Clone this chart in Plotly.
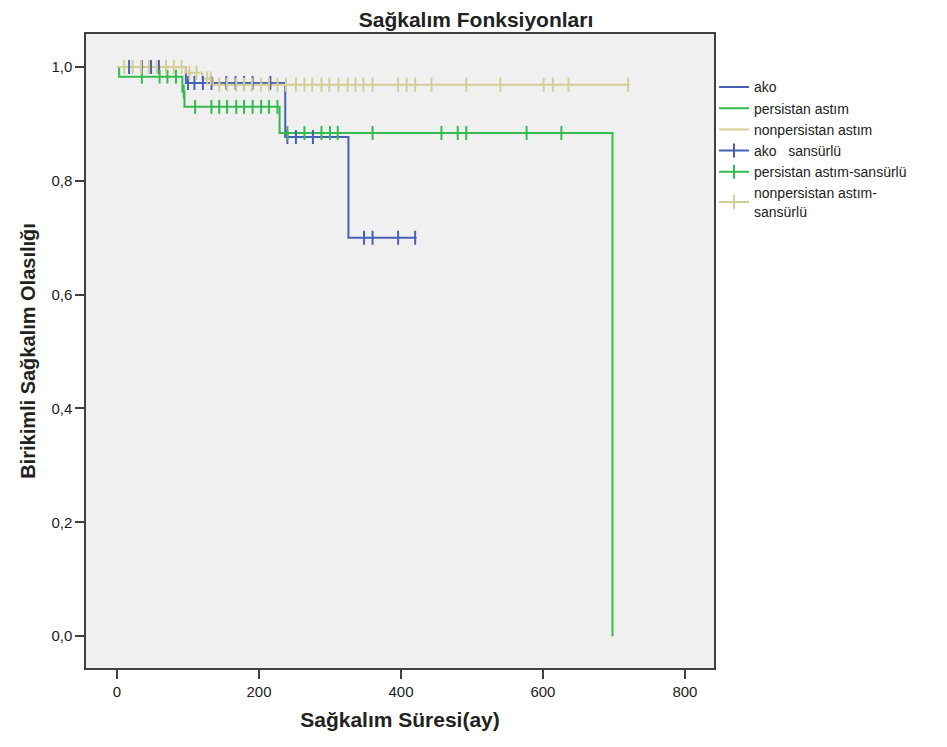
import numpy as np
import plotly.graph_objects as go

# ---- data (time in months, survival probability) ----
ako_times = [0, 97, 237, 326]
ako_surv = [1.0, 0.972, 0.877, 0.700]
ako_end = 422
ako_censored = [17, 35, 48, 59, 100, 109, 121, 133, 154, 167, 179, 191, 216,
                240, 252, 276, 348, 360, 396, 420]

pers_times = [0, 3, 92, 95, 229, 698]
pers_surv = [1.0, 0.983, 0.957, 0.930, 0.884, 0.0]
pers_end = 698
pers_censored = [35, 60, 71, 83, 94, 110, 133, 144, 155, 168, 179, 191, 203, 214,
                 226, 240, 264, 288, 300, 311, 360, 457, 480, 492, 577, 626]

nonp_times = [0, 97, 120, 135]
nonp_surv = [1.0, 0.990, 0.980, 0.969]
nonp_end = 722
nonp_censored = [10, 22, 34, 45, 56, 69, 80, 91, 102, 112, 127, 132, 144, 155, 168,
                 179, 190, 203, 214, 226, 238, 252, 264, 275, 288, 299, 312, 325,
                 336, 347, 360, 396, 408, 420, 443, 492, 540, 601, 614, 636, 720]

group_names = ["ako", "persistan astım", "nonpersistan astım"]
censor_names = ["ako\u00a0\u00a0\u00a0sansürlü", "persistan astım-sansürlü",
                "nonpersistan astım-<br>sansürlü"]
colors = ["#4660B8", "#34BC4C", "#D3CE97"]

x_ticks = [0, 200, 400, 600, 800]
y_ticks = [0.0, 0.2, 0.4, 0.6, 0.8, 1.0]

title_text = "Sağkalım Fonksiyonları"
x_title = "Sağkalım Süresi(ay)"
y_title = "Birikimli Sağkalım Olasılığı"

FONT = "Liberation Sans, Arial, sans-serif"
W, H = 939, 739  # page body has an 8px margin

groups = [
    (ako_times, ako_surv, ako_end, ako_censored),
    (pers_times, pers_surv, pers_end, pers_censored),
    (nonp_times, nonp_surv, nonp_end, nonp_censored),
]

fig = go.Figure()

# step curves
for (t, s, end, _), name, col in zip(groups, group_names, colors):
    xs = list(t) + [end]
    ys = list(s) + [s[-1]]
    fig.add_trace(go.Scatter(
        x=xs, y=ys, mode="lines", line=dict(color=col, width=2, shape="hv"),
        name=name, hoverinfo="skip"))

# censoring marks
for (t, s, end, cens), name, col in zip(groups, censor_names, colors):
    t_arr = np.array(t, dtype=float)
    s_arr = np.array(s, dtype=float)
    idx = np.searchsorted(t_arr, np.array(cens, dtype=float), side="right") - 1
    cy = s_arr[idx]
    xs, ys = [], []
    for cx, yv in zip(cens, cy):
        xs += [cx, None]
        ys += [float(yv), None]
    fig.add_trace(go.Scatter(
        x=xs, y=ys, mode="lines+markers", connectgaps=False,
        line=dict(color=col, width=2),
        marker=dict(symbol="line-ns", size=10, color=col,
                    line=dict(color=col, width=2)),
        name=name, hoverinfo="skip"))

fig.update_layout(
    width=W, height=H,
    margin=dict(l=78, r=233, t=26, b=79),
    paper_bgcolor="white",
    plot_bgcolor="#F0F0F0",
    separators=",.",
    font=dict(family=FONT, size=15, color="#222222"),
    title=dict(text=title_text, x=468 / W, xref="container", xanchor="center",
               y=1.0, yref="container", yanchor="top",
               pad=dict(t=4, b=0),
               font=dict(family=FONT, size=21, color="#222222", weight="bold")),
    showlegend=True,
    legend=dict(x=1.0, xanchor="left", y=0.941, yanchor="top",
                bgcolor="rgba(0,0,0,0)", borderwidth=0, tracegroupgap=0,
                itemwidth=30,
                font=dict(family=FONT, size=14, color="#222222")),
)

fig.update_xaxes(
    range=[-43.7, 841], tickvals=x_ticks, ticks="outside", ticklen=9,
    tickwidth=1.5, tickcolor="#404040",
    showline=True, mirror=True, linecolor="#404040", linewidth=1.5,
    showgrid=False, zeroline=False,
    tickfont=dict(family=FONT, size=15, color="#222222"),
    title=dict(text=x_title, standoff=14,
               font=dict(family=FONT, size=21, color="#222222", weight="bold")))

fig.update_yaxes(
    range=[-0.056, 1.058], tickvals=y_ticks, tickformat=".1f", ticks="outside",
    ticklen=9, tickwidth=1.5, tickcolor="#404040",
    showline=True, mirror=True, linecolor="#404040", linewidth=1.5,
    showgrid=False, zeroline=False,
    tickfont=dict(family=FONT, size=15, color="#222222"),
    title=dict(text=y_title, standoff=10,
               font=dict(family=FONT, size=20, color="#222222", weight="bold")))

fig.write_html("out.html")
